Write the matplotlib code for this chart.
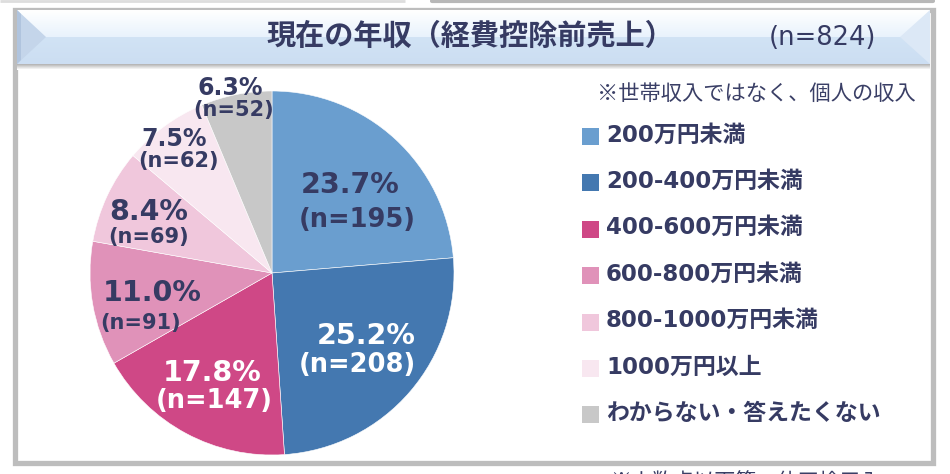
import numpy as np
import matplotlib
matplotlib.use("Agg")
import matplotlib.pyplot as plt
from matplotlib.patches import Rectangle, Polygon

# data
categories = ["200万円未満", "200-400万円未満", "400-600万円未満", "600-800万円未満",
              "800-1000万円未満", "1000万円以上", "わからない・答えたくない"]
counts = [195, 208, 147, 91, 69, 62, 52]
percents = [23.7, 25.2, 17.8, 11.0, 8.4, 7.5, 6.3]
colors = ["#6a9ecf", "#4478b0", "#cf4886", "#e092b9", "#f0c7dc", "#f8e7f0", "#c8c8c8"]
total_n = 824

title = "現在の年収（経費控除前売上）"
note = "※世帯収入ではなく、個人の収入"
footnote = "※小数点以下第一位四捨五入"

NAVY = "#363b63"
FAM = ["DejaVu Sans", "Noto Sans CJK JP"]
JP = ["Noto Sans CJK JP", "DejaVu Sans"]

W, H = 950, 474
fig = plt.figure(figsize=(W / 100, H / 100), dpi=100)
fig.patch.set_facecolor("white")

# pie first, so the overlay axes with the labels sits on top of it
cx, cy, r = 272, 273, 182
pax = fig.add_axes([(cx - r) / W, (H - cy - r) / H, 2 * r / W, 2 * r / H])
pax.pie(counts, colors=colors, startangle=90, counterclock=False, radius=1,
        wedgeprops=dict(edgecolor="white", linewidth=0.4))
pax.set_xlim(-1, 1)
pax.set_ylim(-1, 1)
pax.set_aspect("auto")
pax.axis("off")
pax.set_zorder(0)

# background / overlay axes in pixel coordinates (y pointing down)
bg = fig.add_axes([0, 0, 1, 1])
bg.set_zorder(1)
bg.patch.set_visible(False)
bg.axis("off")

# remnants of the box above
bg.plot([0, 405], [1, 1], color="#dddddd", lw=2, solid_capstyle="butt")
bg.plot([432, 933], [1, 1], color="#b8b8b8", lw=3, solid_capstyle="round")

# outer frame
bg.add_patch(Rectangle((14.5, 10), 918, 452.5, fill=False, edgecolor="#bdbdbd", lw=3.8))

# title bar with a soft vertical gradient
grad = np.zeros((60, 1, 3))
top_c = np.array([1.0, 1.0, 1.0])
mid_c = np.array([0.91, 0.95, 0.99])
low_c = np.array([0.82, 0.89, 0.96])
end_c = np.array([0.80, 0.87, 0.95])
for i in range(60):
    t = i / 59
    if t < 0.5:
        grad[i, 0] = top_c + (mid_c - top_c) * (t / 0.5)
    else:
        grad[i, 0] = low_c + (end_c - low_c) * ((t - 0.5) / 0.5)
bg.imshow(grad, extent=[17, 930, 64, 10], aspect="auto", zorder=2)
bg.add_patch(Polygon([(17, 10), (46, 37), (17, 64)], closed=True,
                     facecolor="#c4d5ea", edgecolor="none", zorder=3))
bg.add_patch(Polygon([(17, 10), (21, 14), (21, 60), (17, 64)], closed=True,
                     facecolor="#b0c4de", edgecolor="none", zorder=3))
bg.add_patch(Polygon([(930, 10), (900, 37), (930, 64)], closed=True,
                     facecolor="#dce8f6", edgecolor="none", zorder=3))
shadow = np.linspace(0.72, 1.0, 6).reshape(6, 1, 1) * np.ones((6, 1, 3))
bg.imshow(shadow, extent=[17, 930, 70, 64], aspect="auto", zorder=2)
bg.set_xlim(0, W)
bg.set_ylim(H, 0)

bg.text(470, 36, title, family=JP, fontsize=21, fontweight="bold",
        color=NAVY, ha="center", va="center", zorder=4)
bg.text(822, 38, f"(n={total_n})", family=FAM, fontsize=18.5,
        color=NAVY, ha="center", va="center", zorder=4)

# note and legend
bg.text(597, 94, note, family=JP, fontsize=15.3, color="#3a3f66",
        ha="left", va="center")
leg_y0, leg_dy = 135, 46.4
for i, (lab, col) in enumerate(zip(categories, colors)):
    y = leg_y0 + i * leg_dy
    bg.add_patch(Rectangle((582, y - 7), 17, 17, facecolor=col, edgecolor="none"))
    bg.text(606, y, lab, family=FAM, fontsize=16.5, fontweight="bold",
            color=NAVY, ha="left", va="center")

# footnote sits below the frame and is cut by the picture edge, as in the reference
bg.text(610, 482, footnote, family=JP, fontsize=15, color="#3a3f66",
        ha="left", va="center")

# label layout: (pct x, pct y, n x, n y, pct size, n size, colour)
label_pos = [
    (350, 185, 357, 220, 20.5, 18.5, NAVY),
    (366, 336, 357, 365, 20.5, 18.5, "white"),
    (212, 373, 214, 401, 20.5, 18.5, "white"),
    (152, 293, 141, 323, 20.5, 15, NAVY),
    (149, 212, 149, 237, 20.5, 15, NAVY),
    (174, 139, 178, 161, 17, 15, NAVY),
    (230, 88, 234, 110, 17, 15, NAVY),
]
for p, n, (px, py, nx, ny, ps, ns, c) in zip(percents, counts, label_pos):
    bg.text(px, py, f"{p:.1f}%", family=FAM, fontsize=ps, fontweight="bold",
            color=c, ha="center", va="center", zorder=5)
    bg.text(nx, ny, f"(n={n})", family=FAM, fontsize=ns, fontweight="bold",
            color=c, ha="center", va="center", zorder=5)

fig.savefig("out.png", dpi=100)
